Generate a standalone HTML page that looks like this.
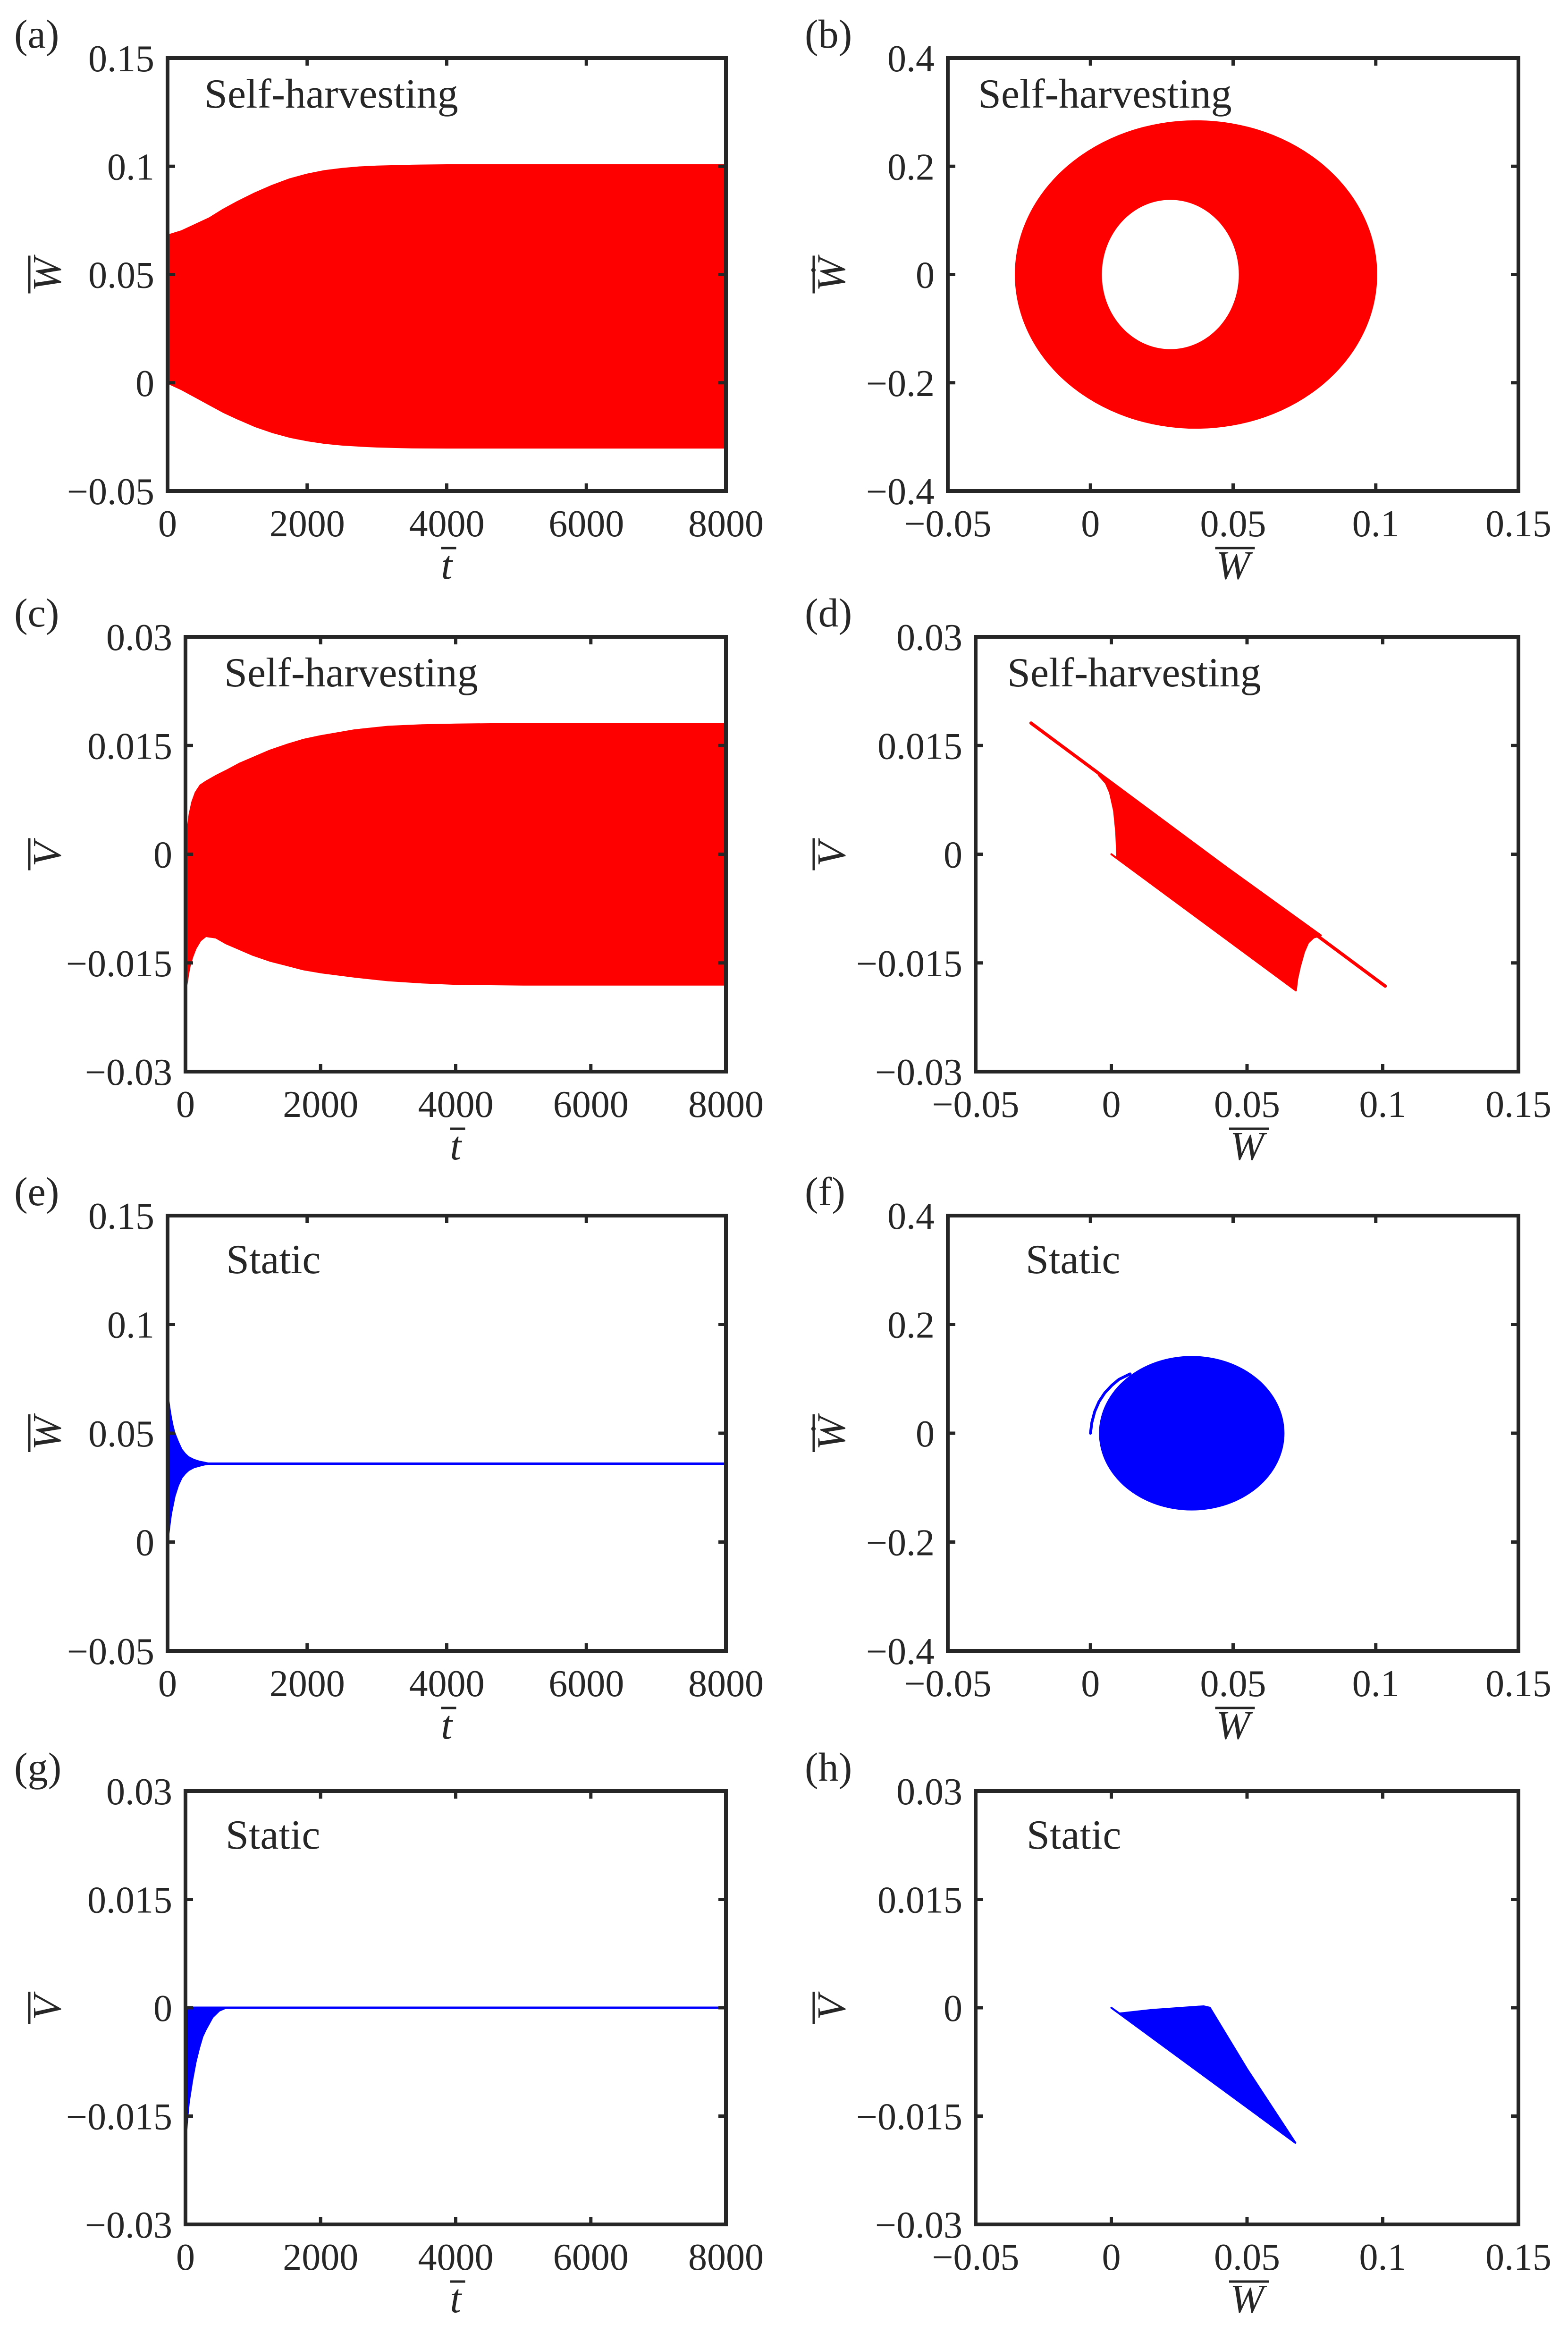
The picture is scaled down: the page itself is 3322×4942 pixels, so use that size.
<!DOCTYPE html>
<html><head><meta charset="utf-8"><style>
html,body{margin:0;padding:0;background:#fff;}
svg{display:block;}
svg text{font-family:"Liberation Serif","Times New Roman","DejaVu Serif",serif !important;fill:#262626;}
</style></head><body>
<svg id="fig" width="3322" height="4942" viewBox="0 0 3322 4942" xmlns="http://www.w3.org/2000/svg" font-family="Liberation Serif, Times New Roman, serif"></svg>
<script>
// ---- data ----
const tA = [0, 200, 400, 600, 800, 1000, 1250, 1500, 1750, 2000, 2250, 2500, 2750, 3000, 3500, 4000, 5000, 6000, 8000];
const wUpperA = [0.068, 0.070, 0.073, 0.076, 0.080, 0.0835, 0.0875, 0.091, 0.094, 0.0962, 0.0978, 0.0988, 0.0995, 0.0999, 0.1003, 0.1005, 0.1005, 0.1005, 0.1005];
const wLowerA = [0.0, -0.003, -0.0065, -0.010, -0.0135, -0.0165, -0.020, -0.0228, -0.025, -0.0266, -0.0278, -0.0286, -0.0291, -0.0295, -0.0299, -0.030, -0.030, -0.030, -0.030];

const outerB = [0.037, 0.0, 0.0635, 0.285];   // cx, cy, rx, ry
const innerB = [0.028, 0.0, 0.024, 0.138];

const tC = [0, 15, 40, 60, 100, 150, 220, 300, 450, 600, 800, 1000, 1250, 1500, 1750, 2000, 2500, 3000, 3500, 4000, 5000, 8000];
const vUpperC = [0.0, 0.002, 0.004, 0.0055, 0.0072, 0.0085, 0.0095, 0.010, 0.0108, 0.0115, 0.0125, 0.0133, 0.0143, 0.0151, 0.0158, 0.0163, 0.0171, 0.0176, 0.0178, 0.0179, 0.018, 0.018];
const vLowerC = [-0.0188, -0.018, -0.0165, -0.0155, -0.0142, -0.013, -0.0119, -0.0113, -0.0115, -0.0123, -0.0131, -0.0139, -0.0147, -0.0153, -0.0159, -0.0163, -0.0169, -0.0174, -0.0177, -0.0179, -0.018, -0.018];

const lineDW = [-0.0296, 0.1009];
const lineDV = [0.0181, -0.0182];
const fillDW = [-0.0046, -0.002, -0.0005, 0.001, 0.0018, 0.0022, 0.0, 0.068, 0.0685, 0.0695, 0.071, 0.0725, 0.0745, 0.0772];
const fillDV = [0.0109, 0.0098, 0.0085, 0.006, 0.003, -0.0006, 0.0, -0.0188, -0.0172, -0.0155, -0.0135, -0.0122, -0.0115, -0.0112];

const tE = [0, 25, 50, 75, 100, 150, 200, 250, 300, 375, 450, 525, 600, 8000];
const wUpperE = [0.068, 0.062, 0.057, 0.053, 0.050, 0.046, 0.0425, 0.0405, 0.039, 0.0378, 0.037, 0.0365, 0.036, 0.036];
const wLowerE = [0.0, 0.007, 0.013, 0.017, 0.021, 0.026, 0.0295, 0.0315, 0.033, 0.0343, 0.035, 0.0356, 0.036, 0.036];
const wEquilE = 0.036;

const ellipseF = [0.0355, 0.0, 0.0325, 0.142];
const arcFW = [0.0, 0.0005, 0.0015, 0.003, 0.005, 0.0075, 0.010, 0.0139];
const arcFV = [0.0, 0.02, 0.04, 0.058, 0.074, 0.088, 0.099, 0.109];

const tG = [0, 20, 50, 75, 100, 150, 200, 250, 300, 400, 500, 600, 8000];
const vUpperG = [0, 0, 0, 0, 0, 0, 0, 0, 0, 0, 0, 0, 0];
const vLowerG = [-0.019, -0.016, -0.013, -0.0115, -0.010, -0.0075, -0.0056, -0.004, -0.003, -0.0013, -0.0004, 0, 0];

const fillHW = [0.0, 0.003, 0.015, 0.030, 0.034, 0.0363, 0.050, 0.0678];
const fillHV = [0.0, -0.0008, -0.0003, 0.0001, 0.0002, 0.0, -0.0085, -0.0187];

const ticksT = [0, 2000, 4000, 6000, 8000];
const tickLabT = ["0", "2000", "4000", "6000", "8000"];
const ticksWx = [-0.05, 0, 0.05, 0.1, 0.15];
const tickLabWx = ["\u22120.05", "0", "0.05", "0.1", "0.15"];
const ticksWy = [-0.05, 0, 0.05, 0.1, 0.15];
const tickLabWy = ["\u22120.05", "0", "0.05", "0.1", "0.15"];
const ticksV = [-0.03, -0.015, 0, 0.015, 0.03];
const tickLabV = ["\u22120.03", "\u22120.015", "0", "0.015", "0.03"];
const ticksWd = [-0.4, -0.2, 0, 0.2, 0.4];
const tickLabWd = ["\u22120.4", "\u22120.2", "0", "0.2", "0.4"];

// ---- drawing ----
const NS = "http://www.w3.org/2000/svg";
const svg = document.getElementById("fig");
const FF = '"Liberation Serif", "Times New Roman", serif';
function mk(tag, attrs, parent) {
  const e = document.createElementNS(NS, tag);
  for (const k in attrs) e.setAttribute(k, attrs[k]);
  if (tag === "text") e.style.fontFamily = FF;
  (parent || svg).appendChild(e);
  return e;
}
function linScale(d0, d1, r0, r1) { return v => r0 + (v - d0) / (d1 - d0) * (r1 - r0); }
const LABX = {a: 30, b: 1705, c: 30, d: 1705, e: 30, f: 1705, g: 30, h: 1705};

function panel(id, box, xdom, ydom, xt, xl, yt, yl, xlab, ylab, title, titleDx, titleDy) {
  const g = mk("g", {});
  
  
  const [x0, y0, x1, y1] = box;
  const sx = linScale(xdom[0], xdom[1], x0, x1);
  const sy = linScale(ydom[0], ydom[1], y1, y0);
  const plot = mk("g", {}, g);
  
  
  const pl = mk("text", {x: LABX[id], y: y0 - 22, "font-size": 86}, g);
  pl.textContent = "(" + id + ")";
  
  
  const axes = mk("g", {stroke: "#262626", "stroke-width": 7, fill: "none"}, g);
  
  
  xt.forEach((v, i) => {
    const x = sx(v);
    mk("line", {x1: x, y1: y1, x2: x, y2: y1 - 16}, axes);
    mk("line", {x1: x, y1: y0, x2: x, y2: y0 + 16}, axes);
    const t = mk("text", {x: x, y: y1 + 96, "font-size": 80, "text-anchor": "middle"}, g);
    t.textContent = xl[i];
    
    
  });
  yt.forEach((v, i) => {
    const y = sy(v);
    mk("line", {x1: x0, y1: y, x2: x0 + 16, y2: y}, axes);
    mk("line", {x1: x1, y1: y, x2: x1 - 16, y2: y}, axes);
    const t = mk("text", {x: x0 - 28, y: y + 28, "font-size": 80, "text-anchor": "end"}, g);
    t.textContent = yl[i];
    
    
  });
  const cx = (x0 + x1) / 2, cy = (y0 + y1) / 2;
  const xa = mk("text", {x: cx, y: y1 + 186, "font-size": 86, "font-style": "italic", "text-anchor": "middle"}, g);
  xa.textContent = xlab;
  
  
  const xbw = xlab === "t" ? 16 : 42;
  const xbo = xlab === "t" ? 4 : 4;
  mk("line", {x1: cx - xbw + xbo, y1: y1 + 121, x2: cx + xbw + xbo, y2: y1 + 121, stroke: "#262626", "stroke-width": 5}, g);
  const ylx = box[0] < 1000 ? 128 : 1790;
  const ya = mk("text", {x: ylx, y: cy, "font-size": 86, "font-style": "italic", "text-anchor": "middle", transform: "rotate(-90 " + ylx + " " + cy + ")"}, g);
  ya.textContent = ylab;
  
  
  const ybw = ylab === "V" ? 34 : 40;
  mk("line", {x1: ylx - 66, y1: cy - ybw, x2: ylx - 66, y2: cy + ybw, stroke: "#262626", "stroke-width": 5}, g);
  const tt = mk("text", {x: x0 + titleDx, y: y0 + titleDy, "font-size": 88}, g);
  tt.textContent = title;
  
  
  return {g, plot, sx, sy, box, axes};
}
function finishBox(p) {
  const [x0, y0, x1, y1] = p.box;
  const r = mk("rect", {x: x0, y: y0, width: x1 - x0, height: y1 - y0, fill: "none", stroke: "#262626", "stroke-width": 8}, p.g);
  
  
}
function band(p, xs, up, lo, color, name) {
  let d = "M" + xs.map((x, i) => p.sx(x) + "," + p.sy(up[i])).join("L");
  for (let i = xs.length - 1; i >= 0; i--) d += "L" + p.sx(xs[i]) + "," + p.sy(lo[i]);
  const e = mk("path", {d: d + "Z", fill: color, stroke: color, "stroke-width": 4, "stroke-linejoin": "round"}, p.plot);
  
  
}
function poly(p, xs, ys, color, name) {
  const d = "M" + xs.map((x, i) => p.sx(x) + "," + p.sy(ys[i])).join("L") + "Z";
  const e = mk("path", {d: d, fill: color, stroke: color, "stroke-width": 4, "stroke-linejoin": "round"}, p.plot);
  
  
}
function ell(p, e4, color, name) {
  const e = mk("ellipse", {cx: p.sx(e4[0]), cy: p.sy(e4[1]), rx: Math.abs(p.sx(e4[2]) - p.sx(0)), ry: Math.abs(p.sy(e4[3]) - p.sy(0)), fill: color}, p.plot);
  
  
}
function polyline(p, xs, ys, color, w, name) {
  const e = mk("polyline", {points: xs.map((x, i) => p.sx(x) + "," + p.sy(ys[i])).join(" "), fill: "none", stroke: color, "stroke-width": w, "stroke-linecap": "round", "stroke-linejoin": "round"}, p.plot);
  
  
}

const RED = "#ff0000", BLUE = "#0000ff";
const R1 = [123, 1040], R2 = [1349, 2270], R3 = [2575, 3497], R4 = [3794, 4712];

let p = panel('a', [355, R1[0], 1538, R1[1]], [0, 8000], [-0.05, 0.15], ticksT, tickLabT, ticksWy, tickLabWy, "t", "W", "Self-harvesting", 78, 105);
band(p, tA, wUpperA, wLowerA, RED, 'response-band');
finishBox(p);
p = panel('b', [2008, R1[0], 3217, R1[1]], [-0.05, 0.15], [-0.4, 0.4], ticksWx, tickLabWx, ticksWd, tickLabWd, "W", "\u1E86", "Self-harvesting", 64, 105);
ell(p, outerB, RED, 'phase-ring-outer');
ell(p, innerB, "#ffffff", 'phase-ring-hole');
finishBox(p);
p = panel('c', [393, R2[0], 1538, R2[1]], [0, 8000], [-0.03, 0.03], ticksT, tickLabT, ticksV, tickLabV, "t", "V", "Self-harvesting", 82, 105);
band(p, tC, vUpperC, vLowerC, RED, 'voltage-band');
finishBox(p);
p = panel('d', [2067, R2[0], 3217, R2[1]], [-0.05, 0.15], [-0.03, 0.03], ticksWx, tickLabWx, ticksV, tickLabV, "W", "V", "Self-harvesting", 67, 105);
polyline(p, lineDW, lineDV, RED, 7, 'trajectory-line');
poly(p, fillDW, fillDV, RED, 'trajectory-region');
finishBox(p);
p = panel('e', [355, R3[0], 1538, R3[1]], [0, 8000], [-0.05, 0.15], ticksT, tickLabT, ticksWy, tickLabWy, "t", "W", "Static", 124, 122);
band(p, tE, wUpperE, wLowerE, BLUE, 'response-band');
polyline(p, [0, 8000], [wEquilE, wEquilE], BLUE, 5, 'equilibrium-line');
finishBox(p);
p = panel('f', [2008, R3[0], 3217, R3[1]], [-0.05, 0.15], [-0.4, 0.4], ticksWx, tickLabWx, ticksWd, tickLabWd, "W", "\u1E86", "Static", 165, 122);
ell(p, ellipseF, BLUE, 'phase-disc');
polyline(p, arcFW, arcFV, BLUE, 6, 'transient-arc');
finishBox(p);
p = panel('g', [393, R4[0], 1538, R4[1]], [0, 8000], [-0.03, 0.03], ticksT, tickLabT, ticksV, tickLabV, "t", "V", "Static", 85, 122);
band(p, tG, vUpperG, vLowerG, BLUE, 'voltage-band');
polyline(p, [0, 8000], [0, 0], BLUE, 5, 'zero-line');
finishBox(p);
p = panel('h', [2067, R4[0], 3217, R4[1]], [-0.05, 0.15], [-0.03, 0.03], ticksWx, tickLabWx, ticksV, tickLabV, "W", "V", "Static", 108, 122);
poly(p, fillHW, fillHV, BLUE, 'trajectory-region');
finishBox(p);
</script>
</body></html>
